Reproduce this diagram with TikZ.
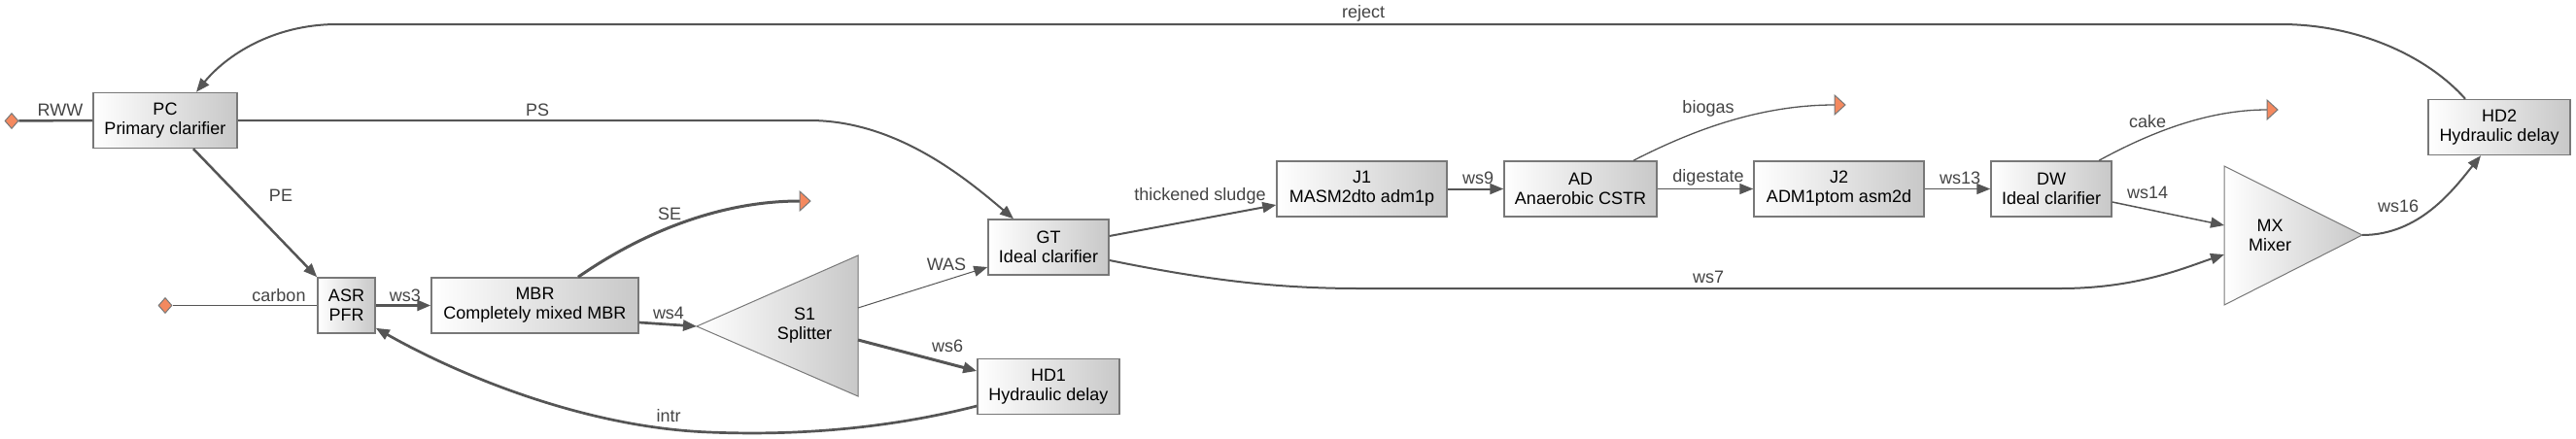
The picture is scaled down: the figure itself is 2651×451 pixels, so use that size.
\documentclass[tikz,border=0pt]{standalone}
\usepackage{fontspec}
\setmainfont{Liberation Sans}
\usetikzlibrary{arrows.meta,shapes.geometric,calc}
\definecolor{edgec}{RGB}{85,85,85}
\definecolor{lblc}{RGB}{68,68,68}
\definecolor{boxb}{RGB}{120,120,120}
\definecolor{boxr}{RGB}{200,200,200}
\definecolor{term}{RGB}{244,137,95}
\begin{document}
\begin{tikzpicture}[x=1pt,y=-1pt,
  unit/.style={draw=boxb, line width=1.5pt, left color=white, right color=boxr,
    minimum height=57pt, inner sep=0pt, align=center,
    font=\fontsize{18}{20}\selectfont, text=black},
  tritext/.style={inner sep=0pt, align=center, font=\fontsize{18}{20}\selectfont, text=black},
  lbl/.style={text=lblc, font=\fontsize{18}{20}\selectfont, inner sep=0pt},
  flow/.style={draw=edgec, line width=#1},
  arr/.style={-{Triangle[length=14pt,width=11pt]}},
  src/.style={diamond, draw=boxb, fill=term, line width=1pt, minimum width=14pt, minimum height=16pt, inner sep=0pt},
  sink/.style={draw=boxb, fill=term, line width=1pt},
  tri/.style={draw=boxb, line width=1pt, left color=white, right color=boxr}
]
\useasboundingbox[fill=white] (0,0) rectangle (2651,451);

% unit boxes
\node[unit, minimum width=148pt] (PC) at (170,124) {PC\\Primary clarifier};
\node[unit, minimum width=59pt] (ASR) at (356.5,314.5) {ASR\\PFR};
\node[unit, minimum width=213pt] (MBR) at (550.5,314.5) {MBR\\Completely mixed MBR};
\node[unit, minimum width=124pt] (GT) at (1079,254.5) {GT\\Ideal clarifier};
\node[unit, minimum width=146pt] (HD1) at (1079,398) {HD1\\Hydraulic delay};
\node[unit, minimum width=175pt] (J1) at (1401.5,194.5) {J1\\MASM2dto adm1p};
\node[unit, minimum width=157pt] (AD) at (1626.5,194.5) {AD\\Anaerobic CSTR};
\node[unit, minimum width=175pt] (J2) at (1892.5,194.5) {J2\\ADM1ptom asm2d};
\node[unit, minimum width=124pt] (DW) at (2111,194.5) {DW\\Ideal clarifier};
\node[unit, minimum width=146pt] (HD2) at (2572,131) {HD2\\Hydraulic delay};

% splitter and mixer triangles
\coordinate (S1tip) at (717,336);
\coordinate (S1a) at (883,317);
\coordinate (S1b) at (883,350);
\path[tri] (S1tip) -- (883,263) -- (883,408) -- cycle;
\node[tritext] (S1) at (828,335) {S1\\Splitter};
\coordinate (MXa) at (2289,232);
\coordinate (MXb) at (2289,262);
\coordinate (MXtip) at (2431,242);
\path[tri] (2289,171) -- (MXtip) -- (2289,314) -- cycle;
\node[tritext] (MX) at (2336,242) {MX\\Mixer};

% sources
\node[src] (src1) at (12,124.5) {};
\node[src] (src2) at (170,314.5) {};

% sink points
\coordinate (SEt) at (823,207);
\coordinate (BGt) at (1888,108);
\coordinate (CKt) at (2333,113);

% connectors
\draw[flow=2.5] (src1) -- (PC.west);
\draw[flow=2, arr] ($(HD2.north)+(-35,0)$) .. controls (2500,60) and (2430,25) .. (2347,25) -- (347,25) .. controls (280,25) and (232,58) .. ($(PC.north)+(32,0)$);
\draw[flow=2, arr] (PC.east) -- (833,124) .. controls (920,124) and (990,180) .. ($(GT.north)+(-36,0)$);
\draw[flow=2.5, arr] ($(PC.south)+(29,0)$) -- (ASR.north west);
\draw[flow=1] (src2) -- (ASR.west);
\draw[flow=2.7, arr] (ASR.east) -- (MBR.west);
\draw[flow=3] ($(MBR.north)+(44.5,0)$) .. controls (660,240) and (740,207) .. (SEt);
\draw[flow=2.7, arr] ($(MBR.east)+(0,17.5)$) -- (S1tip);
\draw[flow=1, arr] (S1a) -- ($(GT.west)+(0,20.5)$);
\draw[flow=3, arr] (S1b) -- ($(HD1.west)+(0,-16)$);
\draw[flow=2.7, arr] ($(HD1.west)+(0,20)$) .. controls (900,445) and (800,448) .. (730,445) .. controls (600,440) and (470,385) .. ($(ASR.south east)+(0,-6)$);
\draw[flow=2, arr] ($(GT.east)+(0,-11.5)$) -- ($(J1.west)+(0,16.5)$);
\draw[flow=2, arr] ($(GT.east)+(0,13.5)$) .. controls (1250,290) and (1320,297) .. (1400,297) -- (2120,297) .. controls (2200,297) and (2250,275) .. (MXb);
\draw[flow=2, arr] (J1.east) -- (AD.west);
\draw[flow=1.3] ($(AD.north)+(54.5,0)$) .. controls (1740,135) and (1810,108) .. (BGt);
\draw[flow=1.3, arr] (AD.east) -- (J2.west);
\draw[flow=1.3, arr] (J2.east) -- (DW.west);
\draw[flow=1.3] ($(DW.north)+(49,0)$) .. controls (2210,138) and (2270,113) .. (CKt);
\draw[flow=1.5, arr] ($(DW.east)+(0,13.5)$) -- (MXa);
\draw[flow=2, arr] (MXtip) .. controls (2490,242) and (2525,195) .. ($(HD2.south)+(-19,0)$);

% sinks
\filldraw[sink] (SEt) -- ++(0,-10) -- ++(11,10) -- ++(-11,10) -- cycle;
\filldraw[sink] (BGt) -- ++(0,-10) -- ++(11,10) -- ++(-11,10) -- cycle;
\filldraw[sink] (CKt) -- ++(0,-10) -- ++(11,10) -- ++(-11,10) -- cycle;

% labels
\node[lbl] (lRWW) at (62,113) {RWW};
\node[lbl] (lrej) at (1403,14) {reject};
\node[lbl] (lPS) at (553,113) {PS};
\node[lbl] (lPE) at (289,201) {PE};
\node[lbl] (lcarb) at (287,304) {carbon};
\node[lbl] (lws3) at (417,304) {ws3};
\node[lbl] (lSE) at (689,220) {SE};
\node[lbl] (lws4) at (688,322) {ws4};
\node[lbl] (lWAS) at (974,272) {WAS};
\node[lbl] (lws6) at (975,356) {ws6};
\node[lbl] (lintr) at (688,428) {intr};
\node[lbl] (lthick) at (1235,202) {thickened sludge};
\node[lbl] (lws7) at (1758,285) {ws7};
\node[lbl] (lws9) at (1521,183) {ws9};
\node[lbl] (lbio) at (1758,112) {biogas};
\node[lbl] (ldig) at (1758,183) {digestate};
\node[lbl] (lws13) at (2017,183) {ws13};
\node[lbl] (lcake) at (2210,125) {cake};
\node[lbl] (lws14) at (2210,198) {ws14};
\node[lbl] (lws16) at (2468,212) {ws16};
\end{tikzpicture}
\end{document}
